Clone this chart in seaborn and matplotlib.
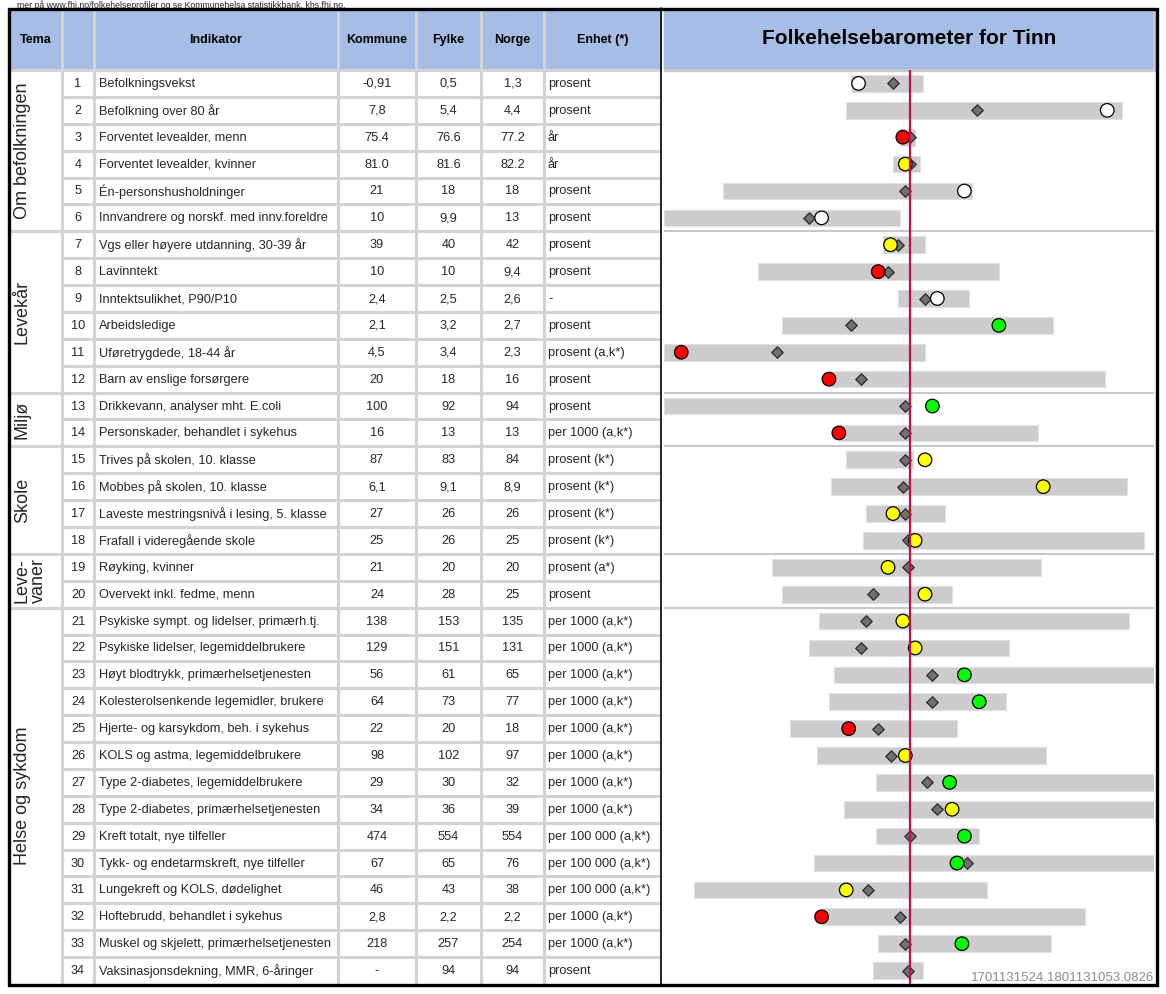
import numpy as np
import pandas as pd
import matplotlib
matplotlib.use("Agg")
import matplotlib.pyplot as plt
from matplotlib.patches import Rectangle
import seaborn as sns

# ---------------- data ----------------
tema = ["Om befolkningen", "Levekår", "Miljø", "Skole", "Leve-\nvaner", "Helse og sykdom"]
tema_antall = [6, 6, 2, 4, 2, 14]

indikator = [
    "Befolkningsvekst", "Befolkning over 80 år", "Forventet levealder, menn",
    "Forventet levealder, kvinner", "Én-personshusholdninger",
    "Innvandrere og norskf. med innv.foreldre",
    "Vgs eller høyere utdanning, 30-39 år", "Lavinntekt", "Inntektsulikhet, P90/P10",
    "Arbeidsledige", "Uføretrygdede, 18-44 år", "Barn av enslige forsørgere",
    "Drikkevann, analyser mht. E.coli", "Personskader, behandlet i sykehus",
    "Trives på skolen, 10. klasse", "Mobbes på skolen, 10. klasse",
    "Laveste mestringsnivå i lesing, 5. klasse", "Frafall i videregående skole",
    "Røyking, kvinner", "Overvekt inkl. fedme, menn",
    "Psykiske sympt. og lidelser, primærh.tj.", "Psykiske lidelser, legemiddelbrukere",
    "Høyt blodtrykk, primærhelsetjenesten", "Kolesterolsenkende legemidler, brukere",
    "Hjerte- og karsykdom, beh. i sykehus", "KOLS og astma, legemiddelbrukere",
    "Type 2-diabetes, legemiddelbrukere", "Type 2-diabetes, primærhelsetjenesten",
    "Kreft totalt, nye tilfeller", "Tykk- og endetarmskreft, nye tilfeller",
    "Lungekreft og KOLS, dødelighet", "Hoftebrudd, behandlet i sykehus",
    "Muskel og skjelett, primærhelsetjenesten", "Vaksinasjonsdekning, MMR, 6-åringer",
]
kommune = ["-0,91", "7,8", "75.4", "81.0", "21", "10", "39", "10", "2,4", "2,1", "4,5", "20",
           "100", "16", "87", "6,1", "27", "25", "21", "24", "138", "129", "56", "64", "22",
           "98", "29", "34", "474", "67", "46", "2,8", "218", "-"]
fylke = ["0,5", "5,4", "76.6", "81.6", "18", "9,9", "40", "10", "2,5", "3,2", "3,4", "18",
         "92", "13", "83", "9,1", "26", "26", "20", "28", "153", "151", "61", "73", "20",
         "102", "30", "36", "554", "65", "43", "2,2", "257", "94"]
norge = ["1,3", "4,4", "77.2", "82.2", "18", "13", "42", "9,4", "2,6", "2,7", "2,3", "16",
         "94", "13", "84", "8,9", "26", "25", "20", "25", "135", "131", "65", "77", "18",
         "97", "32", "39", "554", "76", "38", "2,2", "254", "94"]
enhet = ["prosent", "prosent", "år", "år", "prosent", "prosent",
         "prosent", "prosent", "-", "prosent", "prosent (a,k*)", "prosent",
         "prosent", "per 1000 (a,k*)",
         "prosent (k*)", "prosent (k*)", "prosent (k*)", "prosent (k*)",
         "prosent (a*)", "prosent",
         "per 1000 (a,k*)", "per 1000 (a,k*)", "per 1000 (a,k*)", "per 1000 (a,k*)",
         "per 1000 (a,k*)", "per 1000 (a,k*)", "per 1000 (a,k*)", "per 1000 (a,k*)",
         "per 100 000 (a,k*)", "per 100 000 (a,k*)", "per 100 000 (a,k*)",
         "per 1000 (a,k*)", "per 1000 (a,k*)", "prosent"]

# barometer: standardised deviation from the national value (Norge = 0)
spenn_min = [-0.24, -0.26, -0.04, -0.07, -0.76, -1.00, -0.11, -0.62, -0.05, -0.52, -1.00, -0.33,
             -1.00, -0.29, -0.26, -0.32, -0.18, -0.19, -0.56, -0.52, -0.37, -0.41, -0.31, -0.33,
             -0.49, -0.38, -0.14, -0.27, -0.14, -0.39, -0.88, -0.36, -0.13, -0.15]
spenn_max = [0.05, 0.86, 0.02, 0.04, 0.25, -0.04, 0.06, 0.36, 0.24, 0.58, 0.06, 0.79,
             0.00, 0.52, 0.01, 0.88, 0.14, 0.95, 0.53, 0.17, 0.89, 0.40, 1.00, 0.39,
             0.19, 0.55, 1.00, 1.00, 0.28, 1.00, 0.31, 0.71, 0.57, 0.05]
fylke_pos = [-0.07, 0.27, 0.00, 0.00, -0.02, -0.41, -0.05, -0.09, 0.06, -0.24, -0.54, -0.20,
             -0.02, -0.02, -0.02, -0.03, -0.02, -0.01, -0.01, -0.15, -0.18, -0.20, 0.09, 0.09,
             -0.13, -0.08, 0.07, 0.11, 0.00, 0.23, -0.17, -0.04, -0.02, -0.01]
kommune_pos = [-0.21, 0.80, -0.03, -0.02, 0.22, -0.36, -0.08, -0.13, 0.11, 0.36, -0.93, -0.33,
               0.09, -0.29, 0.06, 0.54, -0.07, 0.02, -0.09, 0.06, -0.03, 0.02, 0.22, 0.28,
               -0.25, -0.02, 0.16, 0.17, 0.22, 0.19, -0.26, -0.36, 0.21, np.nan]
kommune_farge = ["hvit", "hvit", "rød", "gul", "hvit", "hvit", "gul", "rød", "hvit", "grønn",
                 "rød", "rød", "grønn", "rød", "gul", "gul", "gul", "gul", "gul", "gul",
                 "gul", "gul", "grønn", "grønn", "rød", "gul", "grønn", "gul", "grønn", "grønn",
                 "gul", "rød", "grønn", None]
farge_kart = {"hvit": "#FFFFFF", "rød": "#FF0000", "gul": "#FFFF00", "grønn": "#00FF00"}

tittel = "Folkehelsebarometer for Tinn"
kolonner = ["Tema", "", "Indikator", "Kommune", "Fylke", "Norge", "Enhet (*)"]
fotnote = "1701131524.1801131053.0826"
topptekst = "mer på www.fhi.no/folkehelseprofiler og se Kommunehelsa statistikkbank, khs.fhi.no."

# ---------------- style ----------------
sns.set_theme(style="white")
plt.rcParams["font.family"] = ["Liberation Sans", "DejaVu Sans"]

W, H = 1166, 994
fig = plt.figure(figsize=(W / 100, H / 100), dpi=100)
bg = fig.add_axes([0, 0, 1, 1])
bg.set_xlim(0, W)
bg.set_ylim(H, 0)
bg.axis("off")

BLUE = "#A6BEE5"
GRID = "#D3D3D3"
n = len(indikator)
y_top, y_hdr, y_bot = 10, 70, 984
row_h = (y_bot - y_hdr) / n
x_left, x_sep = 10, 661
col_x = [62, 94, 338, 416, 481, 544]
chart_l, chart_r = 664, 1154
gpx = 2.2  # grid line width in points (~3 px)

# header fills
bg.add_patch(Rectangle((x_left, y_top), x_sep - x_left, y_hdr - y_top, color=BLUE, zorder=0))
bg.add_patch(Rectangle((chart_l, y_top), chart_r + 1 - chart_l, y_hdr + 1 - y_top,
                       color="#C9C9C9", zorder=0))
bg.add_patch(Rectangle((chart_l, y_top), chart_r - 2 - chart_l, y_hdr - 2 - y_top,
                       color=BLUE, zorder=0.5))

# table grid
for cx in col_x:
    bg.plot([cx, cx], [y_top, y_bot], color=GRID, lw=gpx, solid_capstyle="butt", zorder=1)
bounds = np.cumsum(tema_antall)[:-1]
for k in range(n):
    yy = y_hdr + k * row_h
    x0 = x_left if (k == 0 or k in bounds) else col_x[0]
    bg.plot([x0, x_sep], [yy, yy], color=GRID, lw=gpx, solid_capstyle="butt", zorder=1)

# header texts
hdr_cx = [(x_left + col_x[0]) / 2, (col_x[0] + col_x[1]) / 2, (col_x[1] + col_x[2]) / 2,
          (col_x[2] + col_x[3]) / 2, (col_x[3] + col_x[4]) / 2, (col_x[4] + col_x[5]) / 2,
          (col_x[5] + x_sep) / 2]
for cx, lab in zip(hdr_cx, kolonner):
    bg.text(cx, (y_top + y_hdr) / 2, lab, ha="center", va="center", fontsize=9,
            fontweight="bold", color="black", zorder=3)
bg.text((chart_l + chart_r) / 2, (y_top + y_hdr) / 2 - 1, tittel, ha="center", va="center",
        fontsize=15, fontweight="bold", color="black", zorder=3)

# table rows
fs = 9.2
for i in range(n):
    yc = y_hdr + (i + 0.5) * row_h + 0.5
    bg.text(hdr_cx[1], yc, str(i + 1), ha="center", va="center", fontsize=fs)
    bg.text(col_x[1] + 5, yc, indikator[i], ha="left", va="center", fontsize=fs)
    bg.text(hdr_cx[3], yc, kommune[i], ha="center", va="center", fontsize=fs)
    bg.text(hdr_cx[4], yc, fylke[i], ha="center", va="center", fontsize=fs)
    bg.text(hdr_cx[5], yc, norge[i], ha="center", va="center", fontsize=fs)
    bg.text(col_x[5] + 4, yc, enhet[i], ha="left", va="center", fontsize=fs)

# tema labels
start = 0
for lab, cnt in zip(tema, tema_antall):
    yc = y_hdr + (start + cnt / 2) * row_h
    bg.text(14, yc, lab, rotation=90, ha="left", va="center", fontsize=13,
            multialignment="left", linespacing=0.95)
    start += cnt

# separator and outer border
bg.plot([x_sep, x_sep], [8, y_bot + 1], color="black", lw=1.2, zorder=4)
bg.add_patch(Rectangle((9, 9), 1157 - 9, 985 - 9, fill=False, edgecolor="black",
                       lw=2.4, zorder=5))

bg.text(17, 0.5, topptekst, ha="left", va="top", fontsize=6.3, color="#222222")
bg.text(chart_r, 978, fotnote, ha="right", va="center", fontsize=9.5, color="#8C8C8C",
        zorder=6)

# ---------------- barometer chart ----------------
ax = fig.add_axes([chart_l / W, 1 - y_bot / H, (chart_r - chart_l) / W, (y_bot - y_hdr) / H])
ax.patch.set_alpha(0)
df = pd.DataFrame({
    "rad": np.arange(n),
    "lo": spenn_min, "hi": spenn_max,
    "fylke": fylke_pos, "kommune": kommune_pos, "farge": kommune_farge,
})

ax.barh(df["rad"], df["hi"] - df["lo"], left=df["lo"], height=0.62, color="#CCCCCC",
        edgecolor="#E0E0E0", linewidth=0.8, zorder=1)
for b in bounds:
    ax.axhline(b - 0.5, color="#C8C8C8", lw=1.5, zorder=1)

sns.scatterplot(data=df, x="fylke", y="rad", marker="D", s=34, color="#707070",
                edgecolor="#2A2A2A", linewidth=0.9, zorder=3, legend=False, ax=ax)
dk = df.dropna(subset=["kommune"])
sns.scatterplot(data=dk, x="kommune", y="rad", hue="farge", palette=farge_kart, marker="o",
                s=95, edgecolor="black", linewidth=0.9, zorder=4, legend=False, ax=ax)
ax.axvline(0, color="#C0103F", lw=1.6, zorder=5)

ax.set_xlim(-1.0, 0.99)
ax.set_ylim(n - 0.5, -0.5)
ax.axis("off")

fig.savefig("out.png", dpi=100)
